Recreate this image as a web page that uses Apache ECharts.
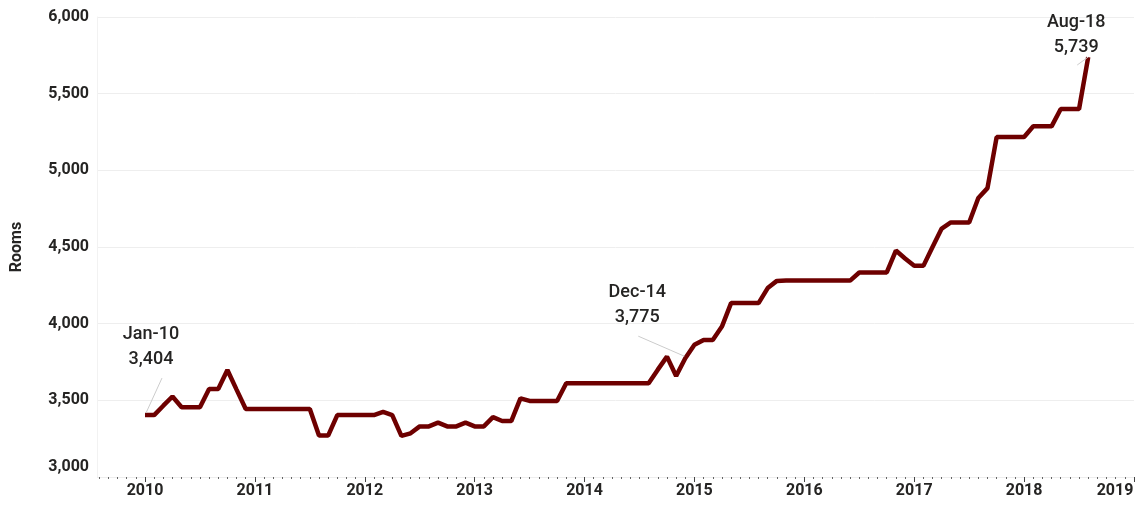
<!DOCTYPE html>
<html>
<head>
<meta charset="utf-8">
<script src="https://cdn.jsdelivr.net/npm/echarts@6/dist/echarts.min.js"></script>
<style>
  html, body { margin: 0; padding: 0; background: #fff; }
  #main { width: 1135px; height: 505px; }
</style>
</head>
<body>
<div id="main"></div>
<script>
// monthly rooms, Jan-2010 .. Aug-2018 (index 0 = Jan-10)
var rooms = [
  3404, 3404, 3465, 3525, 3455, 3455, 3455, 3574, 3574, 3698, 3570, 3444,
  3444, 3444, 3444, 3444, 3444, 3444, 3444, 3270, 3270, 3404, 3404, 3404,
  3404, 3404, 3425, 3404, 3268, 3285, 3330, 3330, 3355, 3330, 3330, 3355,
  3330, 3330, 3390, 3365, 3365, 3513, 3496, 3496, 3496, 3496, 3611, 3611,
  3611, 3611, 3611, 3611, 3611, 3611, 3611, 3611, 3700, 3785, 3659, 3775,
  3862, 3894, 3894, 3981, 4134, 4134, 4134, 4134, 4232, 4279, 4281, 4281,
  4281, 4281, 4281, 4281, 4281, 4281, 4334, 4334, 4334, 4334, 4477, 4425,
  4377, 4377, 4500, 4620, 4660, 4660, 4660, 4820, 4884, 5217, 5217, 5217,
  5217, 5287, 5287, 5287, 5400, 5400, 5400, 5739
];
var monthNames = ['Jan', 'Feb', 'Mar', 'Apr', 'May', 'Jun', 'Jul', 'Aug', 'Sep', 'Oct', 'Nov', 'Dec'];
var yearLabels = ['2010', '2011', '2012', '2013', '2014', '2015', '2016', '2017', '2018', '2019'];
var yTicks = [3000, 3500, 4000, 4500, 5000, 5500, 6000];
// points that get a callout: index -> label shift [dx, dy]
var callouts = { 0: [6, -43], 59: [-48, -28], 103: [-12, 3] };
// leader line for each callout, pixel offsets from the point: [x1, y1, x2, y2]
var leaders = { 0: [17, -37, 1, -2], 59: [-47, -22, -1, -2], 103: [-11, 8, 0, 0] };

var myChart = echarts.init(document.getElementById('main'));

var months = [];
for (var i = 0; i < rooms.length; i++) {
  months.push(monthNames[i % 12] + '-' + String(10 + Math.floor(i / 12)));
}

var yearTicks = yearLabels.map(function(y, k) { return k * 12; });
var monthTicks = [];
for (var m = -5; m <= 108; m++) monthTicks.push(m);

function fmt(v) {
  return String(v).replace(/\B(?=(\d{3})+(?!\d))/g, ',');
}

var seriesData = rooms.map(function(v, i) {
  var item = { value: [i, v] };
  if (callouts[i]) {
    item.label = {
      show: true,
      formatter: months[i] + '\n' + fmt(v)
    };
  }
  return item;
});

var font = 'Roboto, "DejaVu Sans", sans-serif';
var axisText = { color: '#252423', fontFamily: font, fontWeight: 'bold', fontSize: 16 };

var option = {
  animation: false,
  grid: { left: 97, right: 1, top: 17, bottom: 28, containLabel: false, outerBoundsMode: 'none' },
  xAxis: [{
    type: 'value',
    position: 'bottom',
    min: -5.24,
    max: 108,
    splitLine: { show: false },
    axisLine: { show: false },
    axisLabel: { show: false },
    axisTick: {
      show: true,
      customValues: monthTicks,
      length: 2,
      lineStyle: { color: '#666', width: 1 }
    }
  }, {
    type: 'value',
    position: 'bottom',
    min: -5.24,
    max: 108,
    splitLine: { show: false },
    axisLine: { show: false },
    axisTick: {
      show: true,
      customValues: yearTicks,
      length: 5,
      lineStyle: { color: '#444', width: 1 }
    },
    axisLabel: Object.assign({
      customValues: yearTicks,
      formatter: function(v) {
        var k = Math.round(v / 12);
        if (k === yearLabels.length - 1) return '{last|' + yearLabels[k] + '}';
        return yearLabels[k];
      },
      rich: { last: Object.assign({ padding: [0, 38, 0, 0] }, axisText) },
      margin: 6,
      hideOverlap: false
    }, axisText)
  }],
  yAxis: {
    type: 'value',
    min: 3000,
    max: 6000,
    interval: 500,
    name: 'Rooms',
    nameLocation: 'middle',
    nameGap: 72,
    nameTextStyle: axisText,
    axisLine: { show: true, onZero: false, lineStyle: { color: '#f2f2f2' } },
    axisTick: { show: false },
    splitLine: { lineStyle: { color: '#eeeeee', width: 1 } },
    axisLabel: Object.assign({
      margin: 8,
      formatter: function(v) {
        if (v === yTicks[0]) return '{low|' + fmt(v) + '}';
        return fmt(v);
      },
      rich: { low: Object.assign({ padding: [0, 0, 20, 0] }, axisText) }
    }, axisText)
  },
  series: [{
    type: 'line',
    xAxisIndex: 1,
    data: seriesData,
    symbol: 'circle',
    symbolSize: 0,
    showSymbol: true,
    showAllSymbol: true,
    lineStyle: { color: '#6e0000', width: 4.5 },
    itemStyle: { color: '#6e0000' },
    label: {
      show: false,
      position: 'top',
      distance: 0,
      color: '#252423',
      fontFamily: font,
      fontWeight: 500,
      fontSize: 18,
      lineHeight: 25,
      align: 'center'
    },
    labelLayout: function(p) {
      var c = callouts[p.dataIndex];
      if (!c) return {};
      return { dx: c[0], dy: c[1] };
    }
  }]
};

myChart.setOption(option);

// thin grey leader lines next to each callout
var lines = [];
Object.keys(leaders).forEach(function(k) {
  var idx = +k;
  var p = myChart.convertToPixel({ xAxisIndex: 1, yAxisIndex: 0 }, [idx, rooms[idx]]);
  var o = leaders[k];
  lines.push({
    type: 'line',
    silent: true,
    z: 10,
    shape: { x1: p[0] + o[0], y1: p[1] + o[1], x2: p[0] + o[2], y2: p[1] + o[3] },
    style: { stroke: '#cccccc', lineWidth: 1 }
  });
});
myChart.setOption({ graphic: lines });
</script>
</body>
</html>
